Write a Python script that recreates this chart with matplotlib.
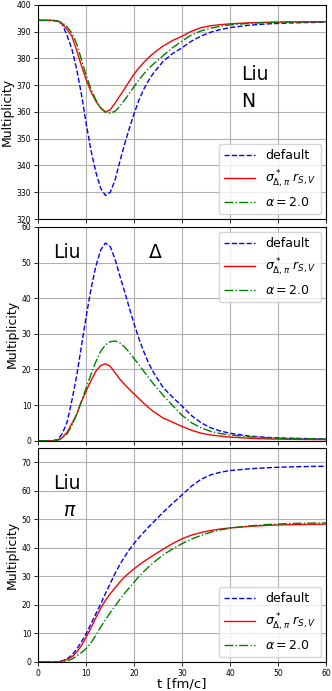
import numpy as np
import matplotlib
matplotlib.use("Agg")
import matplotlib.pyplot as plt

# time grid [fm/c]
t = [0, 1, 2, 3, 4, 5, 6, 7, 8, 9, 10, 11, 12, 13, 14, 15, 16, 17, 18, 19, 20,
     21, 22, 23, 24, 26, 28, 30, 32, 34, 36, 38, 40, 44, 48, 52, 56, 60]

# nucleons
N_default = [394.2, 394.2, 394.2, 394.1, 393.9, 392.8, 388.5, 383.5, 376.0, 366.5, 355.5,
             345.5, 337.5, 331.5, 328.8, 330.0, 334.5, 341.5, 348.0, 354.0, 359.5,
             364.5, 368.5, 371.8, 374.5, 378.8, 381.8, 384.0, 386.5, 388.4, 389.8,
             390.8, 391.5, 392.4, 392.9, 393.2, 393.4, 393.5]
N_sigma = [394.2, 394.2, 394.2, 394.2, 394.0, 393.0, 390.8, 388.3, 383.0, 377.2, 372.0,
           367.5, 364.0, 361.5, 360.0, 360.8, 363.3, 366.0, 368.7, 371.5, 374.2,
           376.5, 378.5, 380.3, 381.9, 384.6, 386.7, 388.3, 390.2, 391.5, 392.2,
           392.6, 392.9, 393.3, 393.5, 393.6, 393.65, 393.7]
N_alpha = [394.2, 394.2, 394.2, 394.2, 394.0, 393.3, 391.8, 389.5, 385.5, 379.5, 373.5,
           368.5, 364.5, 361.5, 359.9, 359.5, 360.3, 362.0, 364.5, 367.0, 369.5,
           372.0, 374.2, 376.2, 377.9, 381.0, 384.0, 386.5, 388.8, 390.3, 391.3,
           392.0, 392.5, 393.1, 393.4, 393.55, 393.65, 393.7]

# deltas
D_default = [0, 0, 0, 0, 0.3, 2.0, 5.2, 11.3, 18.2, 26.6, 35.0,
             42.7, 49.0, 53.5, 55.5, 54.5, 51.0, 46.3, 41.8, 37.2, 32.7,
             28.6, 25.0, 21.8, 19.2, 15.0, 12.2, 9.7, 7.0, 5.0, 3.6,
             2.7, 2.1, 1.3, 0.9, 0.7, 0.6, 0.5]
D_sigma = [0, 0, 0, 0, 0.2, 0.9, 2.4, 4.8, 7.4, 11.0, 14.0,
           16.9, 19.5, 21.1, 21.6, 20.9, 19.1, 17.3, 15.8, 14.4, 13.1,
           11.8, 10.5, 9.3, 8.2, 6.4, 5.2, 4.0, 2.9, 2.1, 1.6,
           1.3, 1.0, 0.7, 0.5, 0.4, 0.35, 0.3]
D_alpha = [0, 0, 0, 0, 0.1, 0.7, 1.9, 4.3, 7.4, 11.1, 14.9,
           18.7, 22.2, 25.1, 26.9, 27.8, 28.0, 27.5, 26.3, 24.8, 23.0,
           21.3, 19.5, 17.7, 16.0, 12.8, 9.9, 7.1, 5.0, 3.6, 2.6,
           2.0, 1.6, 1.1, 0.8, 0.65, 0.55, 0.5]

# pions
P_default = [0, 0, 0, 0, 0, 0.4, 1.1, 2.4, 4.5, 7.1, 10.0,
             13.4, 16.9, 20.3, 24.0, 27.5, 31.0, 34.1, 36.9, 39.4, 41.6,
             43.6, 45.5, 47.3, 49.0, 52.4, 55.6, 58.6, 61.7, 64.1, 65.6,
             66.5, 67.1, 67.7, 68.1, 68.35, 68.5, 68.6]
P_sigma = [0, 0, 0, 0, 0, 0.3, 0.9, 1.8, 3.4, 5.8, 8.8,
           12.0, 15.5, 18.8, 21.6, 23.9, 26.0, 28.0, 29.8, 31.3, 32.7,
           34.0, 35.2, 36.3, 37.4, 39.5, 41.5, 43.2, 44.5, 45.4, 46.1,
           46.6, 47.0, 47.5, 47.9, 48.1, 48.2, 48.3]
P_alpha = [0, 0, 0, 0, 0, 0.1, 0.4, 1.0, 2.1, 3.3, 4.8,
           6.8, 9.3, 12.2, 14.8, 17.3, 19.6, 21.9, 24.1, 26.1, 28.0,
           30.0, 31.7, 33.3, 34.8, 37.5, 39.6, 41.5, 43.1, 44.4, 45.5,
           46.3, 46.9, 47.7, 48.2, 48.5, 48.65, 48.75]

labels = ['default', r'$\sigma^*_{\Delta,\pi}\;r_{S,V}$', r'$\alpha=2.0$']

fig = plt.figure(figsize=(3.32, 6.91), dpi=100)
left, width = 0.1154, 0.8666
ax1 = fig.add_axes([left, 0.683, width, 0.310])
ax2 = fig.add_axes([left, 0.3622, width, 0.3093], sharex=ax1)
ax3 = fig.add_axes([left, 0.042, width, 0.3097], sharex=ax1)

panels = [(ax1, N_default, N_sigma, N_alpha, (320, 400), 'lower right'),
          (ax2, D_default, D_sigma, D_alpha, (0, 60), 'upper right'),
          (ax3, P_default, P_sigma, P_alpha, (0, 75), 'lower right')]

for ax, yd, ys, ya, ylim, loc in panels:
    ax.plot(t, yd, 'b--', lw=1.0, label=labels[0])
    ax.plot(t, ys, 'r-', lw=1.0, label=labels[1])
    ax.plot(t, ya, 'g-.', lw=1.0, label=labels[2])
    ax.set_xlim(0, 60)
    ax.set_ylim(*ylim)
    ax.grid(True, color='#b0b0b0', lw=0.8)
    ax.set_axisbelow(True)
    ax.tick_params(labelsize=5.5, length=3, width=0.6, pad=2)
    ax.set_ylabel('Multiplicity', fontsize=9, labelpad=2)
    ax.legend(loc=loc, fontsize=9, handlelength=2.5, borderaxespad=0.4)

ax1.set_yticks(np.arange(320, 401, 10))
ax2.set_yticks(np.arange(0, 61, 10))
ax3.set_yticks(np.arange(0, 71, 10))
ax1.set_xticks(np.arange(0, 61, 10))
plt.setp(ax1.get_xticklabels(), visible=False)
plt.setp(ax2.get_xticklabels(), visible=False)
ax3.set_xlabel('t [fm/c]', fontsize=9.5, labelpad=0)

ax1.text(42.2, 371.9, 'Liu', fontsize=13.5)
ax1.text(42.2, 361.9, 'N', fontsize=13.5)
ax2.text(3.1, 51.2, 'Liu', fontsize=13.5)
ax2.text(22.9, 51.2, r'$\Delta$', fontsize=13.5)
ax3.text(3.1, 60.6, 'Liu', fontsize=13.5)
ax3.text(5.2, 51.3, r'$\pi$', fontsize=13.5)

fig.savefig('out.png', dpi=100)
